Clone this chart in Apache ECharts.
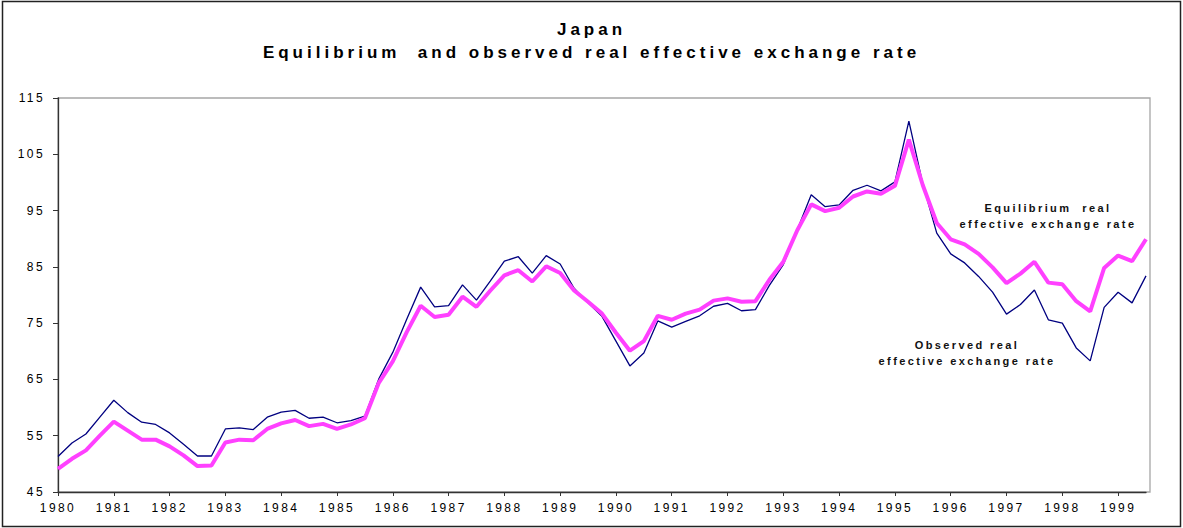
<!DOCTYPE html>
<html>
<head>
<meta charset="utf-8">
<script src="https://cdn.jsdelivr.net/npm/echarts@6/dist/echarts.min.js"></script>
<style>
  html, body { margin: 0; padding: 0; background: #fff; }
  #chart { width: 1183px; height: 528px; }
  #chart text { letter-spacing: 2.4px; }
  #chart text[style*="17px"] { letter-spacing: 4px; }
</style>
</head>
<body>
<div id="chart"></div>
<script>
// Quarterly data, 1980Q1 .. 1999Q3
const years = [1980,1981,1982,1983,1984,1985,1986,1987,1988,1989,1990,1991,1992,1993,1994,1995,1996,1997,1998,1999];
const quarters = ['Q1','Q2','Q3','Q4'];

const observed = [
  51.3, 53.7, 55.3, 58.3, 61.3, 59.1, 57.4, 57.0, 55.5, 53.5,
  51.4, 51.4, 56.2, 56.4, 56.1, 58.3, 59.2, 59.5, 58.1, 58.3,
  57.3, 57.7, 58.5, 65.1, 69.8, 75.7, 81.4, 77.9, 78.1, 81.8,
  79.1, 82.5, 86.0, 86.8, 83.9, 87.0, 85.5, 81.2, 78.6, 76.2,
  71.8, 67.4, 69.7, 75.4, 74.3, 75.3, 76.3, 78.0, 78.5, 77.2,
  77.4, 81.7, 85.4, 91.6, 97.8, 95.7, 96.0, 98.6, 99.5, 98.5,
  100.1, 110.9, 99.7, 91.0, 87.3, 85.7, 83.3, 80.5, 76.6, 78.3,
  80.9, 75.6, 75.0, 70.6, 68.3, 77.8, 80.5, 78.6, 83.4
];

const equilibrium = [
  49.1, 50.9, 52.4, 55.0, 57.5, 55.9, 54.3, 54.3, 53.1, 51.5,
  49.6, 49.7, 53.8, 54.3, 54.2, 56.2, 57.2, 57.8, 56.7, 57.1,
  56.2, 57.0, 58.1, 64.4, 68.2, 73.4, 78.1, 76.1, 76.5, 79.7,
  77.9, 80.8, 83.5, 84.4, 82.4, 85.1, 83.9, 80.8, 78.8, 76.7,
  73.3, 70.1, 71.8, 76.3, 75.6, 76.7, 77.4, 79.0, 79.4, 78.8,
  78.9, 82.7, 85.9, 91.5, 96.1, 94.9, 95.5, 97.5, 98.4, 98.0,
  99.4, 107.6, 99.5, 92.8, 89.9, 89.0, 87.3, 84.9, 82.1, 83.8,
  85.9, 82.2, 81.9, 78.9, 77.1, 84.8, 87.0, 86.0, 89.9
];

const yTicks = [45, 55, 65, 75, 85, 95, 105, 115];

const categories = [];
years.forEach(y => quarters.forEach(q => categories.push(y + q)));
categories.length = observed.length;

const chart = echarts.init(document.getElementById('chart'), null, { renderer: 'svg' });
const FONT = '"Liberation Sans", Arial, sans-serif';

chart.setOption({
  animation: false,
  backgroundColor: '#fff',
  title: {
    text: 'Japan\nEquilibrium  and observed real effective exchange rate',
    left: 'center',
    top: 18,
    padding: 0,
    textStyle: { fontFamily: FONT, fontSize: 17, fontWeight: 'bold', color: '#000', lineHeight: 23 }
  },
  grid: { left: 58, top: 98, right: 37, bottom: 36, containLabel: false },
  xAxis: {
    type: 'category',
    data: categories,
    boundaryGap: false,
    axisLine: { lineStyle: { color: '#333', width: 1.3 } },
    axisTick: { show: true, interval: 3, length: 4, lineStyle: { color: '#333' } },
    axisLabel: {
      interval: 3, margin: 10, color: '#000', fontFamily: FONT, fontSize: 12,
      formatter: v => v.slice(0, 4)
    },
    splitLine: { show: false }
  },
  yAxis: {
    type: 'value',
    min: yTicks[0], max: yTicks[yTicks.length - 1], interval: 10,
    axisLine: { show: true, lineStyle: { color: '#333', width: 1.3 } },
    axisTick: { show: true, length: 5, lineStyle: { color: '#333' } },
    axisLabel: { margin: 13, color: '#000', fontFamily: FONT, fontSize: 12 },
    splitLine: { show: false }
  },
  graphic: [
    { type: 'rect', z: 0, silent: true,
      shape: { x: 58, y: 98, width: 1092, height: 394 },
      style: { fill: 'none', stroke: '#a6a6a6', lineWidth: 1.3 } },
    { type: 'rect', z: 0, silent: true,
      shape: { x: 2.5, y: 1.5, width: 1178, height: 525 },
      style: { fill: 'none', stroke: '#222', lineWidth: 1.5 } },
    { type: 'text', silent: true, x: 1048, y: 208,
      style: { text: 'Equilibrium  real', textAlign: 'center', textVerticalAlign: 'middle',
               font: 'bold 11px ' + FONT, fill: '#111' } },
    { type: 'text', silent: true, x: 1048, y: 224,
      style: { text: 'effective exchange rate', textAlign: 'center', textVerticalAlign: 'middle',
               font: 'bold 11px ' + FONT, fill: '#111' } },
    { type: 'text', silent: true, x: 967, y: 345,
      style: { text: 'Observed real', textAlign: 'center', textVerticalAlign: 'middle',
               font: 'bold 11px ' + FONT, fill: '#111' } },
    { type: 'text', silent: true, x: 967, y: 361,
      style: { text: 'effective exchange rate', textAlign: 'center', textVerticalAlign: 'middle',
               font: 'bold 11px ' + FONT, fill: '#111' } }
  ],
  series: [
    { name: 'Observed real effective exchange rate', type: 'line', data: observed,
      symbol: 'none', z: 2, lineStyle: { color: '#000080', width: 1.3 } },
    { name: 'Equilibrium real effective exchange rate', type: 'line', data: equilibrium,
      symbol: 'none', z: 3, lineStyle: { color: '#ff40ff', width: 4 } }
  ]
});
</script>
</body>
</html>
